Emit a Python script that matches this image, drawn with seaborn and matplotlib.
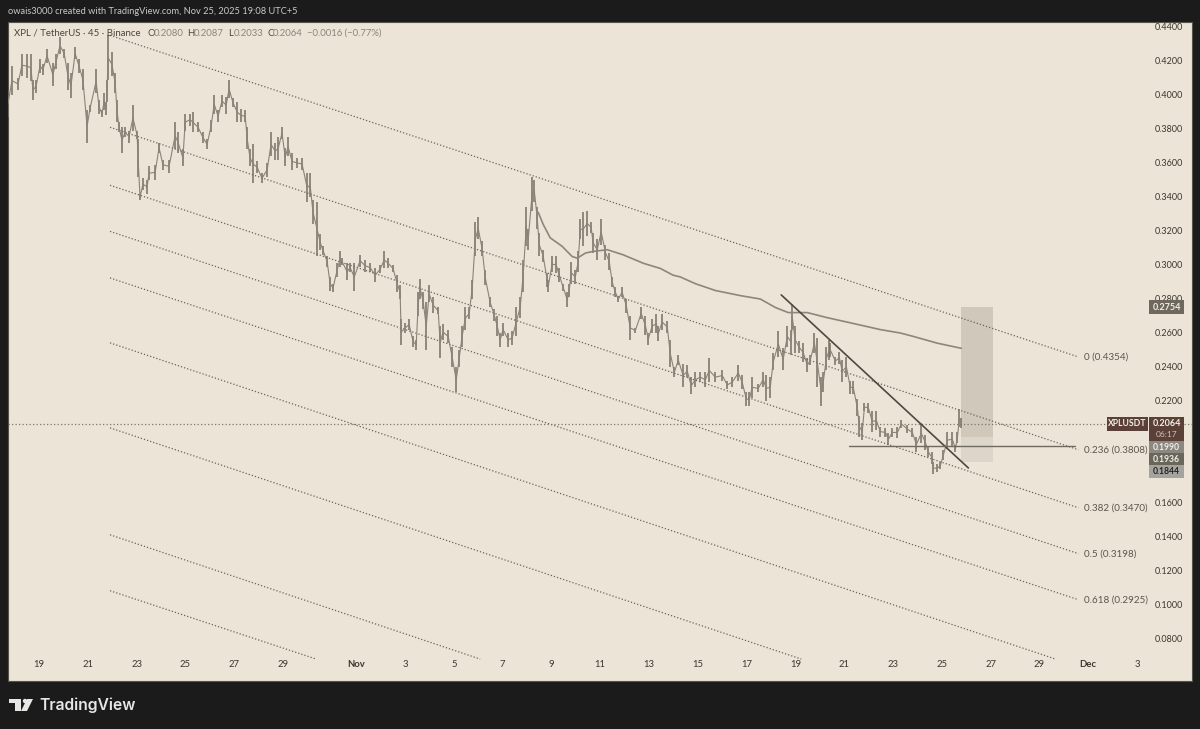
import numpy as np
import pandas as pd
import seaborn as sns
import matplotlib.pyplot as plt
from matplotlib.patches import Rectangle, Polygon

# days counted from Oct 19, high / low
bar_days = [-1.27,-1.11,-.86,-.70,-.49,-.33,-.25,-.12,.04,.16,.33,.57,.70,.86,1.03,1.19,1.31,1.48,1.64,1.80,1.97,2.09,2.34,2.46,2.58,2.67,2.75,2.79,2.83,2.99,
    3.12,3.20,3.28,3.40,3.53,3.69,3.85,4.02,4.06,4.14,4.26,4.43,4.51,4.76,4.92,5.08,5.33,5.58,5.70,5.90,5.99,6.19,6.31,6.52,6.72,6.89,7.05,7.18,7.34,7.50,
    7.67,7.79,7.95,8.12,8.28,8.45,8.53,8.65,8.77,8.94,9.14,9.35,9.51,9.68,9.80,9.96,10.09,10.21,10.37,10.58,10.78,10.99,11.11,11.23,11.40,11.52,11.64,11.81,11.93,12.05,
    12.22,12.34,12.42,12.63,12.75,12.92,13.16,13.37,13.57,13.78,13.98,14.15,14.31,14.51,14.68,14.80,14.84,15.01,15.17,15.33,15.46,15.54,15.62,15.74,15.87,15.99,16.15,16.36,16.44,16.56,
    16.77,16.93,17.10,17.22,17.34,17.47,17.63,17.75,17.88,18.00,18.16,18.29,18.49,18.66,18.78,18.90,19.02,19.23,19.39,19.56,19.72,19.84,19.97,20.05,20.21,20.30,20.42,20.50,20.66,20.83,
    20.87,21.03,21.20,21.32,21.48,21.65,21.73,21.81,21.98,22.10,22.18,22.30,22.47,22.63,22.71,22.88,23.04,23.21,23.37,23.49,23.62,23.74,23.90,24.07,24.23,24.44,24.68,24.85,24.97,25.13,
    25.30,25.38,25.54,25.75,25.87,26.04,26.20,26.40,26.57,26.73,26.90,27.10,27.31,27.47,27.72,28.00,28.21,28.41,28.66,28.82,28.99,29.11,29.23,29.48,29.68,29.81,29.97,30.09,30.30,30.50,
    30.67,30.83,30.87,30.99,31.16,31.32,31.49,31.61,31.78,31.90,32.06,32.14,32.27,32.39,32.43,32.64,32.80,32.92,33.09,33.25,33.37,33.54,33.62,33.74,33.83,33.99,34.15,34.32,34.48,34.69,
    34.81,34.97,35.18,35.34,35.59,35.79,35.96,36.16,36.33,36.45,36.61,36.65,36.82,36.94,37.06,37.23,37.43,37.56,37.64,37.72,37.80]
bar_high = [.403,.417,.410,.424,.424,.424,.409,.409,.421,.418,.427,.419,.424,.434,.427,.419,.413,.428,.421,.415,.391,.394,.415,.397,.391,.401,.396,.409,.435,.425,
    .413,.397,.384,.381,.381,.379,.394,.379,.374,.342,.351,.350,.358,.359,.372,.362,.362,.384,.378,.368,.389,.389,.390,.384,.378,.374,.385,.400,.391,.400,
    .399,.409,.398,.396,.392,.391,.381,.368,.371,.361,.354,.360,.378,.372,.375,.381,.369,.375,.366,.363,.363,.354,.354,.338,.337,.318,.311,.305,.293,.289,
    .301,.308,.304,.301,.301,.301,.306,.303,.301,.298,.300,.308,.304,.300,.294,.288,.268,.266,.268,.258,.256,.284,.292,.284,.278,.288,.281,.275,.264,.265,
    .262,.252,.240,.250,.264,.275,.275,.291,.325,.328,.314,.297,.281,.274,.270,.260,.266,.260,.261,.275,.281,.303,.334,.321,.352,.350,.334,.319,.309,.295,
    .291,.305,.305,.298,.289,.284,.289,.302,.297,.308,.327,.331,.332,.325,.319,.315,.327,.312,.307,.293,.287,.282,.287,.280,.270,.263,.275,.270,.260,.268,
    .271,.264,.271,.267,.256,.240,.247,.242,.241,.234,.237,.237,.237,.245,.237,.238,.232,.234,.241,.235,.225,.225,.234,.230,.237,.235,.234,.248,.261,.251,
    .264,.262,.277,.264,.255,.254,.245,.247,.260,.257,.234,.237,.252,.256,.254,.246,.249,.244,.246,.232,.232,.221,.211,.207,.219,.219,.214,.214,.205,.204,
    .201,.204,.205,.209,.206,.204,.199,.207,.200,.193,.190,.184,.183,.184,.191,.202,.202,.194,.202,.215,.210]
bar_low = [.387,.400,.403,.411,.410,.408,.397,.401,.413,.412,.419,.405,.415,.424,.422,.403,.398,.421,.413,.403,.372,.390,.401,.389,.387,.391,.388,.396,.409,.411,
    .401,.384,.378,.366,.375,.372,.379,.374,.352,.338,.344,.342,.350,.350,.366,.356,.354,.368,.366,.358,.379,.382,.378,.378,.372,.368,.378,.389,.384,.393,
    .389,.398,.393,.384,.384,.384,.368,.358,.348,.354,.348,.352,.364,.362,.362,.374,.358,.364,.356,.357,.356,.337,.340,.324,.305,.309,.306,.299,.285,.284,
    .293,.299,.300,.291,.296,.285,.299,.296,.296,.290,.295,.298,.298,.296,.284,.280,.253,.260,.262,.252,.250,.270,.280,.274,.250,.278,.272,.271,.245,.256,
    .254,.240,.225,.240,.252,.262,.268,.280,.305,.315,.305,.288,.275,.267,.258,.252,.258,.252,.253,.258,.269,.284,.311,.309,.332,.337,.321,.305,.302,.287,
    .284,.296,.295,.290,.285,.275,.281,.289,.289,.296,.315,.311,.317,.319,.307,.303,.312,.303,.297,.287,.281,.278,.281,.272,.256,.260,.268,.259,.253,.260,
    .260,.255,.262,.260,.240,.234,.241,.228,.234,.224,.228,.231,.228,.231,.231,.232,.227,.228,.232,.227,.217,.217,.222,.225,.228,.220,.222,.238,.246,.238,
    .252,.247,.262,.248,.248,.243,.237,.241,.248,.228,.217,.225,.238,.244,.246,.241,.242,.231,.234,.224,.224,.211,.199,.197,.214,.213,.202,.203,.199,.199,
    .194,.199,.198,.204,.201,.199,.190,.195,.191,.187,.183,.177,.178,.180,.185,.192,.193,.190,.195,.205,.204]

ma_days = [20.46,20.66,20.95,21.44,21.85,22.06,22.39,22.71,23.29,23.94,24.77,25.46,25.99,26.28,26.90,27.72,28.74,29.56,30.18,30.71,31.49,32.31,33.25,34.48,35.30,35.83,36.82,37.80]
ma_vals = [.331,.324,.316,.311,.305,.304,.307,.308,.309,.306,.301,.298,.294,.293,.289,.285,.282,.280,.275,.272,.272,.269,.266,.262,.260,.258,.254,.251]

fib_labels = ['0 (0.4354)', '0.236 (0.3808)', '0.382 (0.3470)', '0.5 (0.3198)', '0.618 (0.2925)']
fib_start_day = 2.91
fib_start = [.4351,.3810,.3469,.3198,.2924,.2542,.2042,.1413,.1084]
fib_end_day = [42.6,42.6,42.6,42.6,42.6,41.66,31.24,18.08,11.36]
fib_end = [.2459,.1913,.1572,.1302,.1031,.0682,.0682,.0682,.0682]

trend_days = [30.42, 38.09]
trend_vals = [.2824, .1806]
hline_days = [33.21, 42.44]
hline_val = .1935
last_price = .2064
box_days = [37.80, 39.08]
box_top, box_mid, box_bottom = .2754, .1990, .1844

# 0.2000 and 0.1800 sit behind the badges in the reference
price_ticks = [.44,.42,.40,.38,.36,.34,.32,.30,.28,.26,.24,.22,.16,.14,.12,.10,.08]
date_ticks = [0,2,4,6,8,10,13,15,17,19,21,23,25,27,29,31,33,35,37,39,41,43,45]
date_labels = ['19','21','23','25','27','29','Nov','3','5','7','9','11','13','15','17','19','21','23','25','27','29','Dec','3']

sns.set_theme(style='white')
plt.rcParams['font.family'] = ['Lato', 'DejaVu Sans']

BG = '#1b1b1b'
PANEL = '#ebe4d7'
W, H = 1200, 729

fig = plt.figure(figsize=(12, 7.29), dpi=100, facecolor=BG)
ax = fig.add_axes([8/W, 1-681/H, 1184/W, 659/H], facecolor=PANEL)

# rectangle behind everything
ax.add_patch(Rectangle((box_days[0], box_mid), box_days[1]-box_days[0], box_top-box_mid, color='#cfc8bb', lw=0, zorder=1))
ax.add_patch(Rectangle((box_days[0], box_bottom), box_days[1]-box_days[0], box_mid-box_bottom, color='#dcd6ca', lw=0, zorder=1))

for i in range(len(fib_start)):
    sns.lineplot(x=[fib_start_day, fib_end_day[i]], y=[fib_start[i], fib_end[i]], ax=ax, color='#6a655b',
                 lw=0.9, linestyle=(0, (1, 1.6)), estimator=None, sort=False, zorder=2)
ax.axhline(last_price, color='#7d776b', lw=0.9, linestyle=(0, (1, 1.8)), zorder=2)

# candles squeezed to wicks plus a line through the middle
df = pd.DataFrame({'day': bar_days, 'high': bar_high, 'low': bar_low})
df['mid'] = (df['high'] + df['low']) / 2
ax.vlines(df['day'], df['low'], df['high'], color='#767063', lw=1.1, zorder=3)
sns.lineplot(data=df, x='day', y='mid', ax=ax, color='#8a8377', lw=0.8, estimator=None, sort=False, zorder=3)

sns.lineplot(x=ma_days, y=ma_vals, ax=ax, color='#8d867a', lw=1.2, estimator=None, sort=False, zorder=4)
sns.lineplot(x=trend_days, y=trend_vals, ax=ax, color='#4e483e', lw=1.2, estimator=None, sort=False, zorder=5)
sns.lineplot(x=hline_days, y=[hline_val, hline_val], ax=ax, color='#6f6a5f', lw=1.0, estimator=None, sort=False, zorder=5)

for i, lab in enumerate(fib_labels):
    ax.text(42.83, fib_end[i], lab, fontsize=7.1, color='#5c564c', va='center', ha='left')

ax.set_xlim(-31/24.4, 1153/24.4)
ax.set_ylim(.44-654/1700, .44+5/1700)
ax.set_xlabel('')
ax.set_ylabel('')
ax.yaxis.tick_right()
ax.set_yticks(price_ticks, ['%.4f' % p for p in price_ticks])
ax.set_xticks(date_ticks, date_labels)
ax.tick_params(axis='y', length=0, pad=-27, labelsize=6.5, labelcolor='#3c382f')
ax.tick_params(axis='x', length=0, pad=-15, labelsize=6.8, labelcolor='#3c382f')
for lab in ax.get_yticklabels():
    lab.set_ha('left')
ax.get_xticklabels()[6].set_fontweight('bold')
ax.get_xticklabels()[21].set_fontweight('bold')
for s in ax.spines.values():
    s.set_color('#55524a')
    s.set_linewidth(0.8)


def ptext(x, y, s, **kw):
    kw.setdefault('va', 'center')
    fig.text(x/W, 1-y/H, s, **kw)


def pbox(x0, y0, x1, y1, c):
    fig.add_artist(Rectangle((x0/W, 1-y1/H), (x1-x0)/W, (y1-y0)/H, transform=fig.transFigure, color=c, lw=0))


# header
ptext(8, 12, 'owais3000 created with TradingView.com, Nov 25, 2025 19:08 UTC+5', fontsize=6.7, color='#c9c9c7')
ptext(14, 33, 'XPL / TetherUS · 45 · Binance', fontsize=6.9, color='#4a453b')
for x, s, c in [(147, 'O', '#4a453b'), (153.5, '0.2080', '#8b8479'), (187, 'H', '#4a453b'), (194, '0.2087', '#8b8479'),
                (228, 'L', '#4a453b'), (234, '0.2033', '#8b8479'), (267, 'C', '#4a453b'), (273, '0.2064', '#8b8479'),
                (307, '−0.0016 (−0.77%)', '#8b8479')]:
    ptext(x, 33, s, fontsize=6.8, color=c)

# price badges
pbox(1149, 300, 1184, 314, '#6f685e')
ptext(1166.5, 307, '0.2754', fontsize=6.5, color='#f2efe8', ha='center', fontweight='bold')
pbox(1107, 417, 1148, 431, '#5b4038')
ptext(1127.5, 424, 'XPLUSDT', fontsize=6.2, color='#f2efe8', ha='center', fontweight='bold')
pbox(1149, 417, 1184, 441, '#5b4038')
ptext(1166.5, 424, '0.2064', fontsize=6.5, color='#f2efe8', ha='center', fontweight='bold')
ptext(1166.5, 435, '06:17', fontsize=6.0, color='#cdbfb8', ha='center')
pbox(1149, 441, 1184, 453, '#8a8880')
ptext(1166.5, 447, '0.1990', fontsize=6.2, color='#f2efe8', ha='center', fontweight='bold')
pbox(1149, 453, 1184, 465, '#6b665a')
ptext(1166.5, 459, '0.1936', fontsize=6.2, color='#f2efe8', ha='center', fontweight='bold')
pbox(1149, 465, 1184, 478, '#a5a3a0')
ptext(1166.5, 471.5, '0.1844', fontsize=6.2, color='#26241f', ha='center', fontweight='bold')

# footer logo
logo = '#e6e6e4'
for pts in [[(9, 699), (21, 699), (21, 711), (15, 711), (15, 703), (9, 703)],
            [(27, 699), (33, 699), (27, 711), (21, 711)]]:
    fig.add_artist(Polygon([(x/W, 1-y/H) for x, y in pts], closed=True, transform=fig.transFigure, color=logo, lw=0))
fig.add_artist(Polygon([((25+2.2*np.cos(a))/W, 1-(701+2.2*np.sin(a))/H) for a in np.linspace(0, 6.28, 20)],
                       closed=True, transform=fig.transFigure, color=logo, lw=0))
ptext(39, 705, 'TradingView', fontsize=11.3, color=logo, fontfamily='Inter', fontweight='semibold')

plt.savefig('out.png', dpi=100, facecolor=BG)
